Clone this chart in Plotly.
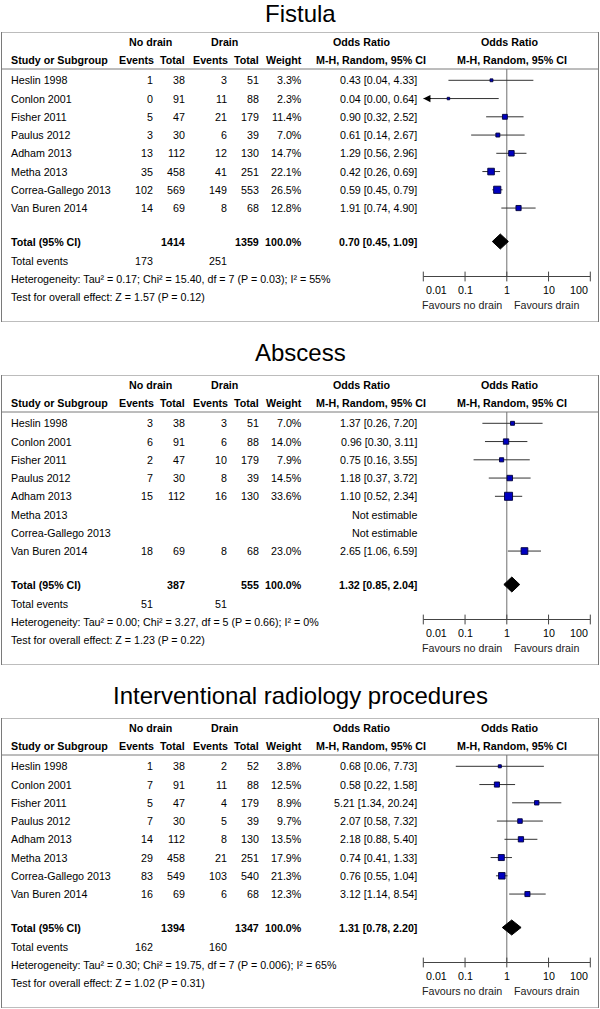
import math
import plotly.graph_objects as go

# ---------------- DATA ----------------
studies = ["Heslin 1998", "Conlon 2001", "Fisher 2011", "Paulus 2012", "Adham 2013",
           "Metha 2013", "Correa-Gallego 2013", "Van Buren 2014"]

fis_nd_events = [1, 0, 5, 3, 13, 35, 102, 14]
fis_nd_total = [38, 91, 47, 30, 112, 458, 569, 69]
fis_d_events = [3, 11, 21, 6, 12, 41, 149, 8]
fis_d_total = [51, 88, 179, 39, 130, 251, 553, 68]
fis_weight = [3.3, 2.3, 11.4, 7.0, 14.7, 22.1, 26.5, 12.8]
fis_or = [0.43, 0.04, 0.90, 0.61, 1.29, 0.42, 0.59, 1.91]
fis_lo = [0.04, 0.00, 0.32, 0.14, 0.56, 0.26, 0.45, 0.74]
fis_hi = [4.33, 0.64, 2.52, 2.67, 2.96, 0.69, 0.79, 4.90]
fis_total = dict(nd_total=1414, d_total=1359, or_=0.70, lo=0.45, hi=1.09,
                 nd_events=173, d_events=251)
fis_het = "Heterogeneity: Tau² = 0.17; Chi² = 15.40, df = 7 (P = 0.03); I² = 55%"
fis_test = "Test for overall effect: Z = 1.57 (P = 0.12)"

abs_nd_events = [3, 6, 2, 7, 15, None, None, 18]
abs_nd_total = [38, 91, 47, 30, 112, None, None, 69]
abs_d_events = [3, 6, 10, 8, 16, None, None, 8]
abs_d_total = [51, 88, 179, 39, 130, None, None, 68]
abs_weight = [7.0, 14.0, 7.9, 14.5, 33.6, None, None, 23.0]
abs_or = [1.37, 0.96, 0.75, 1.18, 1.10, None, None, 2.65]
abs_lo = [0.26, 0.30, 0.16, 0.37, 0.52, None, None, 1.06]
abs_hi = [7.20, 3.11, 3.55, 3.72, 2.34, None, None, 6.59]
abs_total = dict(nd_total=387, d_total=555, or_=1.32, lo=0.85, hi=2.04,
                 nd_events=51, d_events=51)
abs_het = "Heterogeneity: Tau² = 0.00; Chi² = 3.27, df = 5 (P = 0.66); I² = 0%"
abs_test = "Test for overall effect: Z = 1.23 (P = 0.22)"

ir_nd_events = [1, 7, 5, 7, 14, 29, 83, 16]
ir_nd_total = [38, 91, 47, 30, 112, 458, 549, 69]
ir_d_events = [2, 11, 4, 5, 8, 21, 103, 6]
ir_d_total = [52, 88, 179, 39, 130, 251, 540, 68]
ir_weight = [3.8, 12.5, 8.9, 9.7, 13.5, 17.9, 21.3, 12.3]
ir_or = [0.68, 0.58, 5.21, 2.07, 2.18, 0.74, 0.76, 3.12]
ir_lo = [0.06, 0.22, 1.34, 0.58, 0.88, 0.41, 0.55, 1.14]
ir_hi = [7.73, 1.58, 20.24, 7.32, 5.40, 1.33, 1.04, 8.54]
ir_total = dict(nd_total=1394, d_total=1347, or_=1.31, lo=0.78, hi=2.20,
                nd_events=162, d_events=160)
ir_het = "Heterogeneity: Tau² = 0.30; Chi² = 19.75, df = 7 (P = 0.006); I² = 65%"
ir_test = "Test for overall effect: Z = 1.02 (P = 0.31)"

titles = ["Fistula", "Abscess", "Interventional radiology procedures"]
tick_vals = [0.01, 0.1, 1, 10, 100]
tick_text = ["0.01", "0.1", "1", "10", "100"]
favour_left = "Favours no drain"
favour_right = "Favours drain"

panels = [
    (fis_nd_events, fis_nd_total, fis_d_events, fis_d_total, fis_weight, fis_or, fis_lo, fis_hi, fis_total, fis_het, fis_test),
    (abs_nd_events, abs_nd_total, abs_d_events, abs_d_total, abs_weight, abs_or, abs_lo, abs_hi, abs_total, abs_het, abs_test),
    (ir_nd_events, ir_nd_total, ir_d_events, ir_d_total, ir_weight, ir_or, ir_lo, ir_hi, ir_total, ir_het, ir_test),
]

# ---------------- LAYOUT CONSTANTS ----------------
W, H = 600, 1009
TOPS = [32, 375, 718]          # box top of each panel (px)
TITLE_OFF = [18, 23, 23]       # title centre above box top (px)
BOX_H = 290
FONT = "Liberation Sans, Arial, Helvetica, sans-serif"
FS = 10.7
AX_L, AX_R = 423.3, 590.3      # pixel extent of log axis 0.01..100
AXIS_Y = 244.5
SEP_Y = 37
ROW0, ROW_STEP = 48.3, 18.25
TOTAL_Y = 209.5
TE_Y, HET_Y, TEST_Y = 229, 247, 265
TICKLAB_Y, FAV_Y = 257.7, 272.7


def row_y(i):
    return ROW0 + ROW_STEP * i


def xp(x):
    return x / W


def fmt_or(o, l, h):
    return f"{o:.2f} [{l:.2f}, {h:.2f}]"


fig = go.Figure()
annotations = []
shapes = []
layout_axes = {}

for k, (nde, ndt, de, dt, wt, ors, los, his, tot, het, test) in enumerate(panels):
    T = TOPS[k]
    idx = "" if k == 0 else str(k + 1)
    xa, ya = "x" + idx, "y" + idx
    layout_axes["xaxis" + idx] = dict(type="log", range=[-2, 2], domain=[AX_L / W, AX_R / W],
                                      visible=False, anchor=ya, fixedrange=True)
    layout_axes["yaxis" + idx] = dict(range=[BOX_H, 0], domain=[1 - (T + BOX_H) / H, 1 - T / H],
                                      visible=False, anchor=xa, fixedrange=True)

    def txt(x, y, s, anchor="right", bold=False, size=FS, color="#000"):
        annotations.append(dict(
            x=xp(x), y=y, xref="paper", yref=ya, text=("<b>%s</b>" % s) if bold else s,
            showarrow=False, xanchor=anchor, yanchor="middle",
            font=dict(family=FONT, size=size, color=color)))

    # title
    annotations.append(dict(x=0.5, y=1 - (T - TITLE_OFF[k]) / H, xref="paper", yref="paper",
                            text=titles[k], showarrow=False, xanchor="center", yanchor="middle",
                            font=dict(family=FONT, size=24, color="#000")))
    # box and separator
    shapes.append(dict(type="rect", xref="paper", yref=ya, x0=xp(1.5), x1=xp(598.5), y0=0, y1=BOX_H,
                       line=dict(color="#7a7a7a", width=1)))
    shapes.append(dict(type="line", xref="paper", yref=ya, x0=xp(1.5), x1=xp(598.5), y0=SEP_Y, y1=SEP_Y,
                       line=dict(color="#7a7a7a", width=1)))

    # headers
    txt(150.3, 10, "No drain", "center", True)
    txt(224, 10, "Drain", "center", True)
    txt(361, 10, "Odds Ratio", "center", True)
    txt(509.5, 10, "Odds Ratio", "center", True)
    txt(9, 28, "Study or Subgroup", "left", True)
    txt(156, 28, "Events", "right", True)
    txt(187, 28, "Total", "right", True)
    txt(230, 28, "Events", "right", True)
    txt(261, 28, "Total", "right", True)
    txt(303.5, 28, "Weight", "right", True)
    txt(371, 28, "M-H, Random, 95% CI", "center", True)
    txt(512, 28, "M-H, Random, 95% CI", "center", True)

    # study rows
    ci_x, ci_y = [], []
    sq_x, sq_y, sq_s = [], [], []
    for i, name in enumerate(studies):
        y = row_y(i)
        txt(9, y, name, "left")
        if ors[i] is None:
            txt(418.5, y, "Not estimable", "right")
            continue
        txt(154.5, y, str(nde[i]))
        txt(187, y, str(ndt[i]))
        txt(228.5, y, str(de[i]))
        txt(261, y, str(dt[i]))
        txt(303.5, y, f"{wt[i]:.1f}%")
        txt(419, y, fmt_or(ors[i], los[i], his[i]))
        lo_c = max(los[i], tick_vals[0])
        hi_c = min(his[i], tick_vals[-1])
        ci_x += [lo_c, hi_c, None]
        ci_y += [y, y, None]
        sq_x.append(ors[i])
        sq_y.append(y)
        sq_s.append(1.3 * math.sqrt(wt[i]) + 0.5)
        if los[i] < tick_vals[0]:
            annotations.append(dict(x=math.log10(tick_vals[0]), y=y, xref=xa, yref=ya, ax=9, ay=0,
                                    axref="pixel", ayref="pixel", text="", showarrow=True,
                                    arrowhead=2, arrowsize=1.3, arrowwidth=1.1, arrowcolor="#000"))

    # totals
    txt(9, TOTAL_Y, "Total (95% CI)", "left", True)
    txt(187, TOTAL_Y, str(tot["nd_total"]), "right", True)
    txt(261, TOTAL_Y, str(tot["d_total"]), "right", True)
    txt(303.5, TOTAL_Y, "100.0%", "right", True)
    txt(419, TOTAL_Y, fmt_or(tot["or_"], tot["lo"], tot["hi"]), "right", True)
    txt(9, TE_Y, "Total events", "left")
    txt(154.5, TE_Y, str(tot["nd_events"]))
    txt(228.5, TE_Y, str(tot["d_events"]))
    txt(9, HET_Y, het, "left")
    txt(9, TEST_Y, test, "left")

    # reference line at OR = 1
    fig.add_trace(go.Scatter(x=[1, 1], y=[SEP_Y, AXIS_Y], mode="lines", xaxis=xa, yaxis=ya,
                             line=dict(color="#6e6e6e", width=1), hoverinfo="skip", showlegend=False))
    # CI lines
    fig.add_trace(go.Scatter(x=ci_x, y=ci_y, mode="lines", xaxis=xa, yaxis=ya, cliponaxis=False,
                             line=dict(color="#333", width=1), hoverinfo="skip", showlegend=False))
    # squares
    fig.add_trace(go.Scatter(x=sq_x, y=sq_y, mode="markers", xaxis=xa, yaxis=ya, cliponaxis=False,
                             marker=dict(symbol="square", size=sq_s, color="#0000c0", opacity=1,
                                         line=dict(color="#00003a", width=0.9)),
                             hoverinfo="skip", showlegend=False))
    # diamond
    dh = 7.5
    fig.add_trace(go.Scatter(x=[tot["lo"], tot["or_"], tot["hi"], tot["or_"], tot["lo"]],
                             y=[TOTAL_Y, TOTAL_Y - dh, TOTAL_Y, TOTAL_Y + dh, TOTAL_Y],
                             mode="lines", fill="toself", fillcolor="#000", xaxis=xa, yaxis=ya,
                             line=dict(color="#000", width=1), hoverinfo="skip", showlegend=False))
    # axis line and ticks
    fig.add_trace(go.Scatter(x=[tick_vals[0], tick_vals[-1]], y=[AXIS_Y, AXIS_Y], mode="lines",
                             xaxis=xa, yaxis=ya, cliponaxis=False,
                             line=dict(color="#444", width=1), hoverinfo="skip", showlegend=False))
    fig.add_trace(go.Scatter(x=tick_vals, y=[AXIS_Y] * len(tick_vals), mode="markers",
                             xaxis=xa, yaxis=ya, cliponaxis=False,
                             marker=dict(symbol="line-ns", size=7, line=dict(color="#444", width=1)),
                             hoverinfo="skip", showlegend=False))
    for j, (tv, tt) in enumerate(zip(tick_vals, tick_text)):
        anc = "left" if j == 0 else ("right" if j == len(tick_vals) - 1 else "center")
        annotations.append(dict(x=math.log10(tv), y=TICKLAB_Y, xref=xa, yref=ya, text=tt,
                                showarrow=False, xanchor=anc, yanchor="middle",
                                xshift=1 if j == 0 else 0,
                                font=dict(family=FONT, size=FS, color="#000")))
    annotations.append(dict(x=0, y=FAV_Y, xref=xa, yref=ya, text=favour_left, showarrow=False,
                            xanchor="right", yanchor="middle", xshift=-3,
                            font=dict(family=FONT, size=FS, color="#222")))
    annotations.append(dict(x=0, y=FAV_Y, xref=xa, yref=ya, text=favour_right, showarrow=False,
                            xanchor="left", yanchor="middle", xshift=5,
                            font=dict(family=FONT, size=FS, color="#222")))

fig.update_layout(
    width=W, height=H, margin=dict(l=0, r=0, t=0, b=0),
    paper_bgcolor="white", plot_bgcolor="rgba(0,0,0,0)",
    showlegend=False, annotations=annotations, shapes=shapes, **layout_axes,
)

fig.write_html("out.html", config={"displayModeBar": False},
               post_script="document.body.style.margin='0';")
